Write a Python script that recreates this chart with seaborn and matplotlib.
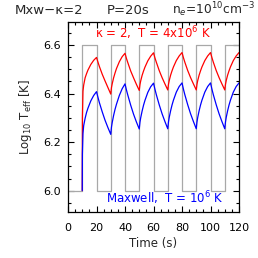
import matplotlib
matplotlib.use("Agg")
import matplotlib.pyplot as plt
import seaborn as sns
import pandas as pd
from matplotlib.ticker import MultipleLocator

# heating pulses (gray square wave), log10 T levels
pulse_t = [0, 10, 20, 30, 40, 50, 60, 70, 80, 90, 100, 110, 120]
pulse_v = [6.0, 6.6, 6.0, 6.6, 6.0, 6.6, 6.0, 6.6, 6.0, 6.6, 6.0, 6.6, 6.6]

# time samples of the two model curves
time = [10, 10.1, 10.5, 11, 12, 13, 14, 16, 18, 20,
        21, 22, 24, 26, 28, 30,
        30.5, 31, 32, 33, 34, 36, 38, 40,
        41, 42, 44, 46, 48, 50,
        50.5, 51, 52, 53, 54, 56, 58, 60,
        61, 62, 64, 66, 68, 70,
        70.5, 71, 72, 73, 74, 76, 78, 80,
        81, 82, 84, 86, 88, 90,
        90.5, 91, 92, 93, 94, 96, 98, 100,
        101, 102, 104, 106, 108, 110,
        110.5, 111, 112, 113, 114, 116, 118, 120]

kappa_T = [6.00, 6.30, 6.41, 6.435, 6.465, 6.482, 6.497, 6.520, 6.537, 6.549,
           6.530, 6.512, 6.480, 6.452, 6.425, 6.398,
           6.425, 6.440, 6.465, 6.485, 6.503, 6.531, 6.552, 6.566,
           6.545, 6.527, 6.493, 6.465, 6.438, 6.413,
           6.437, 6.452, 6.475, 6.493, 6.509, 6.535, 6.554, 6.568,
           6.547, 6.529, 6.495, 6.466, 6.440, 6.415,
           6.438, 6.453, 6.476, 6.494, 6.510, 6.536, 6.555, 6.569,
           6.548, 6.529, 6.495, 6.466, 6.440, 6.415,
           6.438, 6.453, 6.476, 6.494, 6.510, 6.536, 6.555, 6.569,
           6.548, 6.529, 6.495, 6.466, 6.440, 6.415,
           6.438, 6.453, 6.476, 6.494, 6.510, 6.536, 6.555, 6.569]

maxw_T = [6.00, 6.15, 6.235, 6.268, 6.298, 6.322, 6.340, 6.370, 6.392, 6.408,
          6.385, 6.363, 6.325, 6.290, 6.260, 6.232,
          6.262, 6.280, 6.310, 6.335, 6.356, 6.392, 6.420, 6.440,
          6.415, 6.393, 6.352, 6.315, 6.283, 6.254,
          6.282, 6.300, 6.328, 6.352, 6.372, 6.405, 6.428, 6.443,
          6.418, 6.395, 6.354, 6.317, 6.285, 6.255,
          6.283, 6.301, 6.329, 6.353, 6.373, 6.406, 6.429, 6.444,
          6.418, 6.395, 6.354, 6.317, 6.285, 6.255,
          6.283, 6.301, 6.329, 6.353, 6.373, 6.406, 6.429, 6.444,
          6.418, 6.395, 6.354, 6.317, 6.285, 6.255,
          6.283, 6.301, 6.329, 6.353, 6.373, 6.406, 6.429, 6.444]

sns.set_style("ticks")
plt.rcParams['font.family'] = ['DejaVu Sans']

fig = plt.figure(figsize=(2.58, 2.58), dpi=100)
ax = fig.add_axes([0.2636, 0.1783, 0.6628, 0.7364])

pulse = pd.DataFrame({'t': pulse_t, 'logT': pulse_v})
sns.lineplot(data=pulse, x='t', y='logT', ax=ax, color='#a8a8a8', lw=0.9,
             drawstyle='steps-post', estimator=None, sort=False, zorder=1)
df = pd.DataFrame({'t': time, 'kappa': kappa_T, 'maxw': maxw_T})
sns.lineplot(data=df, x='t', y='kappa', ax=ax, color='red', lw=0.9,
             estimator=None, sort=False, zorder=2)
sns.lineplot(data=df, x='t', y='maxw', ax=ax, color='blue', lw=0.9,
             estimator=None, sort=False, zorder=3)

ax.set_xlim(0, 120)
ax.set_ylim(5.912, 6.695)
ax.xaxis.set_major_locator(MultipleLocator(20))
ax.xaxis.set_minor_locator(MultipleLocator(5))
ax.yaxis.set_major_locator(MultipleLocator(0.2))
ax.yaxis.set_minor_locator(MultipleLocator(0.05))
ax.yaxis.set_major_formatter(matplotlib.ticker.FormatStrFormatter('%.1f'))
ax.tick_params(which='both', direction='in', top=True, right=True,
               labelsize=8, width=0.8, colors='black')
ax.tick_params(axis='x', pad=8)
ax.tick_params(axis='y', pad=5)
ax.tick_params(which='major', length=4)
ax.tick_params(which='minor', length=2)
for s in ax.spines.values():
    s.set_linewidth(0.9)
    s.set_color('black')

ax.set_xlabel('Time (s)', fontsize=8.5, labelpad=3)
ax.set_ylabel(r'Log$_{10}$ T$_{\rm eff}$ [K]', fontsize=8.5, labelpad=7)

ax.text(0.497, 0.94, r'κ = 2,  T = 4x10$^6$ K', color='red', fontsize=8.5,
        ha='center', va='center', transform=ax.transAxes)
ax.text(0.564, 0.07, r'Maxwell,  T = 10$^6$ K', color='blue', fontsize=8.5,
        ha='center', va='center', transform=ax.transAxes)

fig.text(15 / 258, 1 - 10 / 258, 'Mxw−κ=2', fontsize=9.5, ha='left', va='center')
fig.text(107 / 258, 1 - 10 / 258, 'P=20s', fontsize=9.5, ha='left', va='center')
fig.text(172 / 258, 1 - 10 / 258, r'n$_e$=10$^{10}$cm$^{-3}$', fontsize=8.8,
         ha='left', va='center')

fig.savefig('out.png', dpi=100)
